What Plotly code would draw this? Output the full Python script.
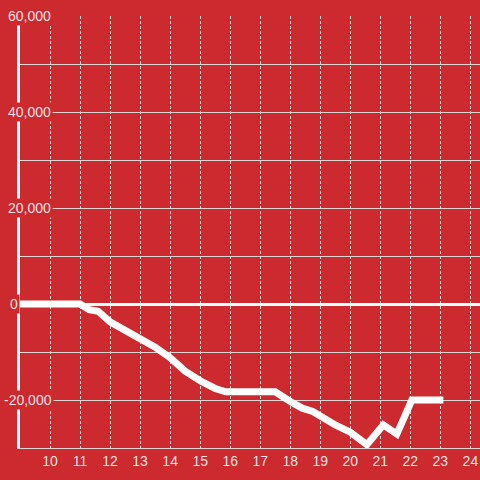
import plotly.graph_objects as go

# data
x_values = [9, 11, 11.3, 11.6, 12, 12.5, 13, 13.5, 14, 14.5, 15, 15.5, 15.85, 17.5,
            18, 18.4, 18.75, 19, 19.5, 20, 20.55, 21.1, 21.55, 22.05, 23.1]
y_values = [0, 0, -1200, -1500, -3700, -5400, -7200, -9000, -11200, -14000, -16000,
            -17600, -18300, -18300, -20300, -21700, -22400, -23400, -25200, -26700,
            -29300, -25200, -27100, -20000, -20000]

x_ticks = list(range(10, 25))
y_label_values = [60000, 40000, 20000, 0, -20000]
y_label_texts = ["60,000", "40,000", "20,000", "0", "-20,000"]
y_label_left_px = [6, 6, 6, 8, 2]

BG = "#cd2a2f"
GRID = "rgba(222,222,222,0.95)"
TEXT = "rgba(255,255,255,0.88)"
FONT = "Liberation Sans, Arial, sans-serif"

fig = go.Figure()
fig.add_trace(go.Scatter(
    x=x_values, y=y_values, mode="lines",
    line=dict(color="white", width=7),
    hoverinfo="skip", showlegend=False, cliponaxis=False,
))

L, R, T, B = 20, 0, 16, 32
W = 480 - L - R

for v, t, px in zip(y_label_values, y_label_texts, y_label_left_px):
    fig.add_annotation(
        x=(px - L) / W, xref="paper", y=v, yref="y",
        text=t, showarrow=False, xanchor="left", yanchor="middle",
        font=dict(family=FONT, size=14, color=TEXT),
        bgcolor=BG, borderpad=1,
    )

fig.update_layout(
    width=480, height=480,
    margin=dict(l=L, r=R, t=T, b=B),
    paper_bgcolor=BG, plot_bgcolor=BG,
    font=dict(family=FONT, size=14, color=TEXT),
    xaxis=dict(
        range=[9, 24.32], tickvals=x_ticks, ticktext=[str(v) for v in x_ticks],
        showgrid=True, gridcolor=GRID, gridwidth=1, griddash="3px,2px",
        showline=True, linecolor=GRID, linewidth=1,
        zeroline=False, ticks="", ticklen=0,
        tickfont=dict(family=FONT, size=14, color=TEXT),
        fixedrange=True,
    ),
    yaxis=dict(
        range=[-30000, 60000], dtick=10000, tick0=0,
        showgrid=True, gridcolor=GRID, gridwidth=1,
        showticklabels=False, ticks="",
        showline=True, linecolor="white", linewidth=3,
        zeroline=True, zerolinecolor="white", zerolinewidth=3,
        fixedrange=True,
    ),
)

fig.write_html(
    "out.html",
    config={"displayModeBar": False},
    post_script="document.body.style.margin='0';document.body.style.overflow='hidden';",
)
